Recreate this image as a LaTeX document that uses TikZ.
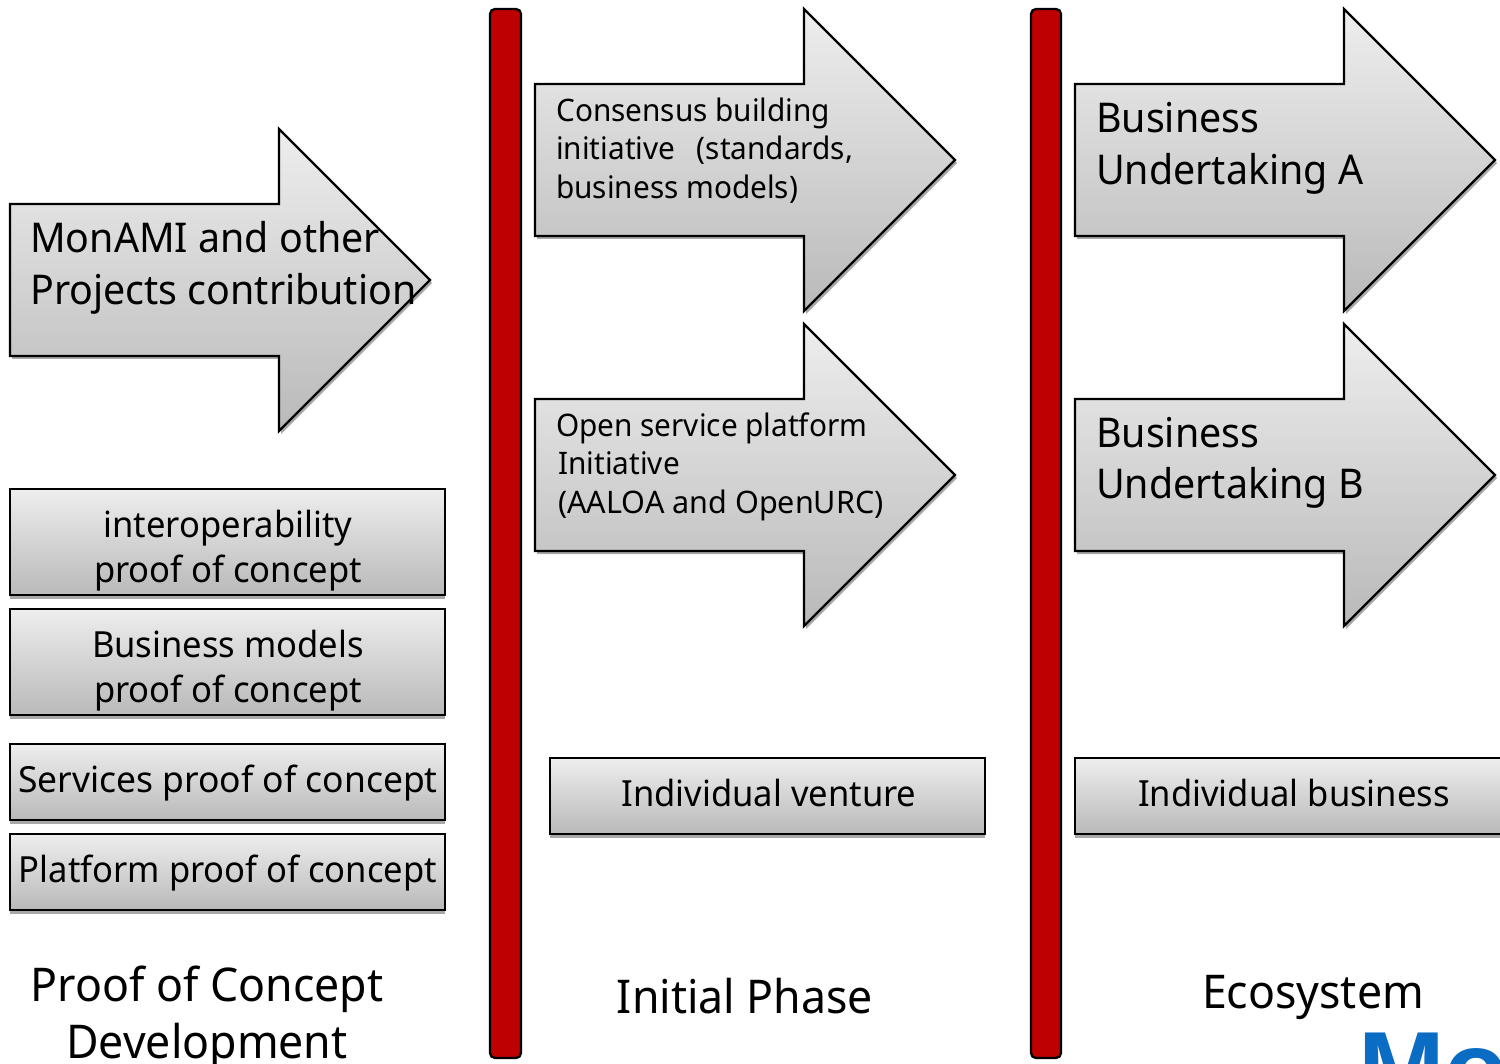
\documentclass[tikz,border=0pt]{standalone}
\usepackage{fontspec}
\setmainfont[FakeStretch=0.96]{Noto Sans}
\newfontfamily\widerfont[FakeStretch=0.985]{Noto Sans}
\newfontfamily\logofont{Liberation Sans Bold}
\tikzset{
  x=1pt,y=-1pt,
  shape outline/.style={draw=black,line width=2.3pt,line join=miter,top color=boxtop,bottom color=boxbottom,shading angle=0},
  soft shadow/.style={fill=shadowgrey,draw=none},
  red bar/.style={draw=black,line width=2.3pt,fill=barred,rounded corners=5pt},
  label/.style={anchor=base west,inner sep=0pt,text=black,font=\fontsize{#1}{#1}\selectfont},
  centered label/.style={anchor=base,inner sep=0pt,text=black,font=\fontsize{#1}{#1}\selectfont},
}
\definecolor{boxtop}{HTML}{EEEEEE}
\definecolor{boxbottom}{HTML}{B9B9B9}
\definecolor{shadowgrey}{HTML}{A8A8A8}
\definecolor{barred}{HTML}{BE0000}
\definecolor{logoblue}{HTML}{0B6CC4}
\newcommand{\arrowshape}[7]{%
  \fill[soft shadow] (#1+2,#2+3) -- (#4+2,#2+3) -- (#4+2,#5+3) -- (#7+2,{(#5+#6)/2+3}) -- (#4+2,#6+3) -- (#4+2,#3+3) -- (#1+2,#3+3) -- cycle;
  \draw[shape outline] (#1,#2) -- (#4,#2) -- (#4,#5) -- (#7,{(#5+#6)/2}) -- (#4,#6) -- (#4,#3) -- (#1,#3) -- cycle;}
\newcommand{\boxshape}[4]{%
  \fill[soft shadow] (#1,#2+4) rectangle (#3,#4+4);
  \draw[shape outline] (#1,#2) rectangle (#3,#4);}
\begin{document}
\begin{tikzpicture}
\useasboundingbox (0,0) rectangle (1500,1064);
\fill[white] (0,0) rectangle (1500,1064);
% arrows
\arrowshape{10}{204}{356}{279}{129}{431}{430}
\arrowshape{535}{84}{236}{804}{9}{311}{955}
\arrowshape{535}{399}{551}{804}{324}{626}{955}
\arrowshape{1075}{84}{236}{1344}{9}{311}{1495}
\arrowshape{1075}{399}{551}{1344}{324}{626}{1495}
% boxes
\boxshape{10}{489}{445}{595}
\boxshape{10}{609}{445}{715}
\boxshape{10}{744}{445}{820}
\boxshape{10}{834}{445}{910}
\boxshape{550}{758}{985}{834}
\boxshape{1075}{758}{1504}{834}
% bars
\draw[red bar] (490,9) rectangle (521,1058);
\draw[red bar] (1031,9) rectangle (1061,1058);
% arrow texts
\node[label=41] (a1) at (30,253) {MonAMI and other};
\node[label=41] (a2) at (30,305) {Projects contribution};
\node[label=31] (b1) at (556,122) {Consensus building};
\node[label=31] (b2) at (556,160) {initiative\ \ \hspace{6pt}(standards,};
\node[label=31] (b3) at (556,199) {business models)};
\node[label=31] (c1) at (556,437) {Open service platform};
\node[label=31] (c2) at (558,475) {Initiative};
\node[label=31] (c3) at (558,513) {\widerfont (AALOA and OpenURC)};
\node[label=41] (d1) at (1096,133) {Business};
\node[label=41] (d2) at (1096,185) {Undertaking A};
\node[label=41] (e1) at (1096,448) {Business};
\node[label=41] (e2) at (1096,499) {Undertaking B};
% box texts
\node[centered label=36] (f1) at (228,537) {interoperability};
\node[centered label=36] (f2) at (228,582) {proof of concept};
\node[centered label=36] (g1) at (228,657) {Business models};
\node[centered label=36] (g2) at (228,702) {proof of concept};
\node[centered label=36] (h) at (228,792) {\widerfont Services proof of concept};
\node[centered label=36] (i) at (228,882) {Platform proof of concept};
\node[centered label=36] (j) at (769,806) {Individual venture};
\node[centered label=36] (k) at (1294,806) {Individual business};
% headings
\node[centered label=46.5] (l1) at (207,1001) {Proof of Concept};
\node[centered label=46.5] (l2) at (207,1058) {Development};
\node[centered label=46.5] (m) at (745,1013) {Initial Phase};
\node[centered label=46.5] (n) at (1313,1008) {Ecosystem};
% logo fragment
\node[anchor=base west,inner sep=0pt,text=logoblue,font=\fontsize{104}{104}\selectfont\logofont] (logo) at (1358,1104) {Mo};
\end{tikzpicture}
\end{document}
